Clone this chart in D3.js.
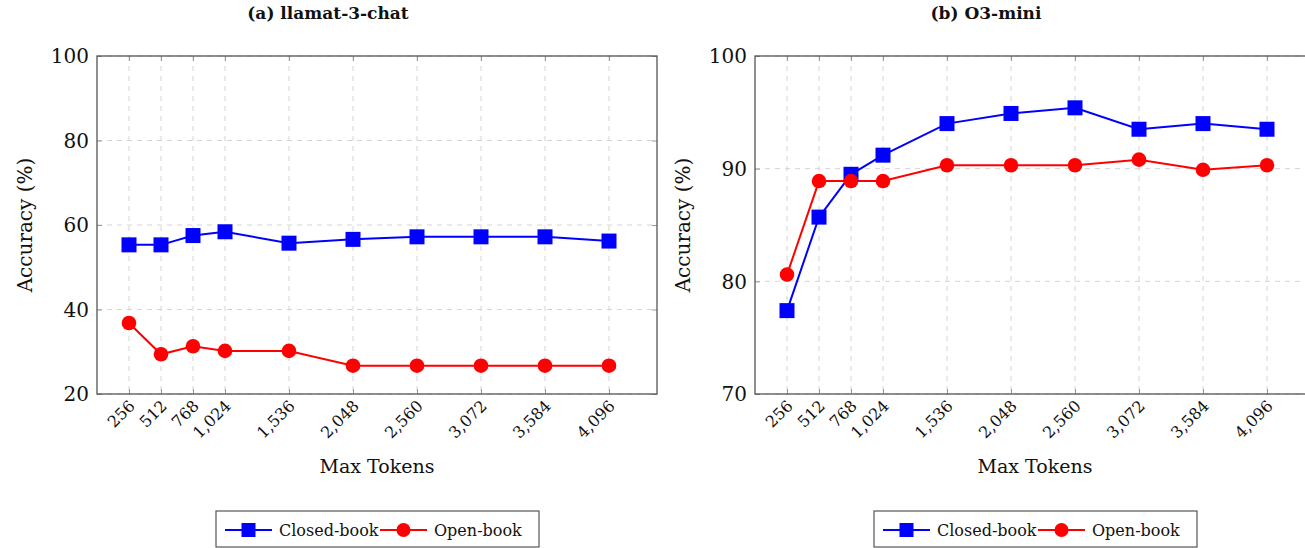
<!DOCTYPE html>
<html>
<head>
<meta charset="utf-8">
<script src="https://cdn.jsdelivr.net/npm/d3@7"></script>
<style>
  body { margin: 0; background: #fff; }
  svg text { font-family: "DejaVu Serif", serif; fill: #111; }
</style>
</head>
<body>
<svg id="chart" width="1305" height="548"></svg>
<script>
// data
const maxTokens = [256, 512, 768, 1024, 1536, 2048, 2560, 3072, 3584, 4096];
const llamatClosed = [55.3, 55.3, 57.5, 58.4, 55.7, 56.6, 57.2, 57.2, 57.2, 56.2];
const llamatOpen = [36.8, 29.4, 31.3, 30.2, 30.2, 26.7, 26.7, 26.7, 26.7, 26.7];
const o3Closed = [77.4, 85.7, 89.5, 91.2, 94.0, 94.9, 95.4, 93.5, 94.0, 93.5];
const o3Open = [80.6, 88.9, 88.9, 88.9, 90.3, 90.3, 90.3, 90.8, 89.9, 90.3];
const seriesNames = ["Closed-book", "Open-book"];
const panelTitles = ["(a) llamat-3-chat", "(b) O3-mini"];
const yTicksA = [20, 40, 60, 80, 100];
const yTicksB = [70, 80, 90, 100];

var svg = d3.select("#chart");
var width = 560, height = 338;
var colors = ["#0000ff", "#ff0000"];

function drawPanel(left, title, yTicks, closed, open) {
    var g = svg.append("g").attr("transform", "translate(" + left + ",56)");

    var xScale = d3.scaleLinear().domain([0, 4480]).range([0, width]);
    var yScale = d3.scaleLinear().domain([yTicks[0], yTicks[yTicks.length - 1]]).range([height, 0]);

    // grid
    g.selectAll(".vgrid").data(maxTokens).enter().append("line")
        .attr("x1", d => xScale(d)).attr("x2", d => xScale(d))
        .attr("y1", 0).attr("y2", height)
        .attr("stroke", "#d4d4d4").attr("stroke-dasharray", "5,5");
    g.selectAll(".hgrid").data(yTicks).enter().append("line")
        .attr("x1", 0).attr("x2", width)
        .attr("y1", d => yScale(d)).attr("y2", d => yScale(d))
        .attr("stroke", "#d4d4d4").attr("stroke-dasharray", "5,5");

    // inner ticks
    var xb = g.append("g").attr("transform", "translate(0," + height + ")")
        .call(d3.axisBottom(xScale).tickValues(maxTokens).tickSizeInner(-5).tickSizeOuter(0).tickFormat(""));
    var xt = g.append("g")
        .call(d3.axisTop(xScale).tickValues(maxTokens).tickSizeInner(-5).tickSizeOuter(0).tickFormat(""));
    var yl = g.append("g")
        .call(d3.axisLeft(yScale).tickValues(yTicks).tickSizeInner(-5).tickSizeOuter(0).tickFormat(""));
    var yr = g.append("g").attr("transform", "translate(" + width + ",0)")
        .call(d3.axisRight(yScale).tickValues(yTicks).tickSizeInner(-5).tickSizeOuter(0).tickFormat(""));
    [xb, xt, yl, yr].forEach(function(a){
        a.select(".domain").remove();
        a.selectAll("line").attr("stroke", "#999");
    });

    // frame
    g.append("rect").attr("width", width).attr("height", height)
        .attr("fill", "none").attr("stroke", "#555").attr("stroke-width", 1.3);

    // tick labels
    g.selectAll(".ylab").data(yTicks).enter().append("text")
        .attr("x", -8).attr("y", d => yScale(d)).attr("dy", "0.36em")
        .attr("text-anchor", "end").style("font-size", "20px")
        .text(d => d);
    g.selectAll(".xlab").data(maxTokens).enter().append("text")
        .attr("transform", d => "translate(" + (xScale(d) + 3) + "," + (height + 9) + ") rotate(-45)")
        .attr("dy", "0.35em").attr("text-anchor", "end").style("font-size", "16px")
        .text(d => d3.format(",")(d));

    // titles, centred over the whole subfigure (y label included)
    g.append("text").attr("x", width / 2 - 49).attr("y", -37)
        .attr("text-anchor", "middle").style("font-size", "17px").style("font-weight", "bold")
        .text(title);
    g.append("text").attr("x", width / 2).attr("y", height + 79)
        .attr("text-anchor", "middle").style("font-size", "19px")
        .text("Max Tokens");
    g.append("text").attr("transform", "translate(-65," + (height / 2) + ") rotate(-90)")
        .attr("text-anchor", "middle").style("font-size", "20px")
        .text("Accuracy (%)");

    // lines + markers
    var line = d3.line().x((d, i) => xScale(maxTokens[i])).y(d => yScale(d));
    [closed, open].forEach(function(vals, s){
        g.append("path").datum(vals).attr("d", line)
            .attr("fill", "none").attr("stroke", colors[s]).attr("stroke-width", 2);
    });
    g.selectAll(".sq").data(closed).enter().append("rect")
        .attr("x", (d, i) => xScale(maxTokens[i]) - 7.5).attr("y", d => yScale(d) - 7.5)
        .attr("width", 15).attr("height", 15).attr("fill", colors[0]);
    g.selectAll(".dot").data(open).enter().append("circle")
        .attr("cx", (d, i) => xScale(maxTokens[i])).attr("cy", d => yScale(d))
        .attr("r", 7.3).attr("fill", colors[1]);

    // legend
    var lg = g.append("g").attr("transform", "translate(" + (width / 2 - 161) + "," + (height + 117) + ")");
    lg.append("rect").attr("width", 323).attr("height", 36)
        .attr("fill", "#fff").attr("stroke", "#555").attr("stroke-width", 1.2);
    var offs = [9, 164];
    seriesNames.forEach(function(name, s){
        var x0 = offs[s];
        lg.append("line").attr("x1", x0).attr("x2", x0 + 47).attr("y1", 19).attr("y2", 19)
            .attr("stroke", colors[s]).attr("stroke-width", 2);
        if (s === 0) {
            lg.append("rect").attr("x", x0 + 23.5 - 7).attr("y", 12).attr("width", 14).attr("height", 14).attr("fill", colors[s]);
        } else {
            lg.append("circle").attr("cx", x0 + 23.5).attr("cy", 19).attr("r", 7).attr("fill", colors[s]);
        }
        lg.append("text").attr("x", x0 + 54).attr("y", 19).attr("dy", "0.35em")
            .style("font-size", "16px").text(name);
    });
}

drawPanel(97, panelTitles[0], yTicksA, llamatClosed, llamatOpen);
drawPanel(755, panelTitles[1], yTicksB, o3Closed, o3Open);
</script>
</body>
</html>
